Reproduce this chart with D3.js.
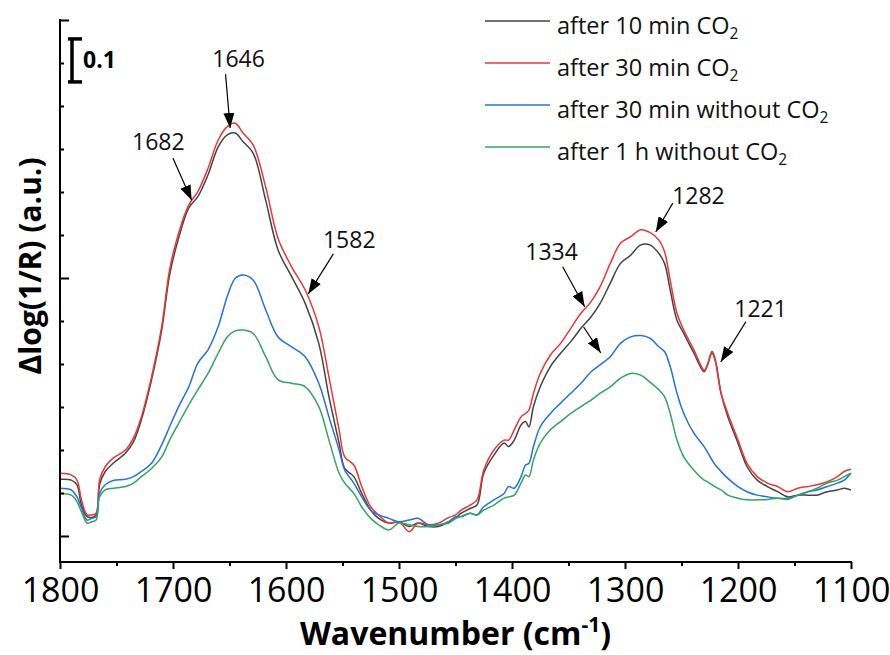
<!DOCTYPE html>
<html>
<head>
<meta charset="utf-8">
<script src="https://cdnjs.cloudflare.com/ajax/libs/d3/7.8.5/d3.min.js"></script>
<style>
body {margin:0; background:#fff;}
svg {font-family:'Open Sans','Noto Sans',sans-serif;}
</style>
</head>
<body>
<svg id="chart" width="890" height="655"></svg>
<script>
// wavenumber grid (cm-1)
var wavenumbers = [1800,1790,1785,1781,1776,1772,1768,1765,1760,1753,
  1742,1735,1728,1719,1710,1703,1695,1686,1678,1669,
  1660,1652,1645,1638,1629,1618,1607,1595,1583,1571,
  1562,1553,1548,1540,1533,1525,1518,1509,1500,1491,
  1483,1474,1465,1456,1450,1445,1437,1431,1425,1416,
  1407,1403,1398,1392,1388,1385,1381,1375,1366,1357,
  1348,1339,1330,1322,1313,1304,1295,1286,1278,1270,
  1265,1260,1254,1248,1239,1230,1227,1223,1220,1215,
  1209,1200,1192,1183,1174,1165,1156,1147,1138,1130,
  1121,1112,1106,1100]

var after10minCO2 = [.132,.130,.119,.072,.045,.043,.049,.119,.150,.169,
  .193,.219,.270,.363,.479,.607,.693,.763,.789,.840,
  .905,.933,.937,.917,.890,.781,.665,.603,.541,.448,
  .324,.216,.157,.138,.099,.060,.041,.030,.033,.022,
  .030,.022,.022,.033,.041,.053,.064,.072,.146,.188,
  .216,.208,.223,.258,.266,.254,.301,.347,.394,.425,
  .452,.483,.510,.541,.588,.634,.653,.677,.677,.657,
  .634,.572,.502,.471,.425,.382,.398,.429,.409,.332,
  .277,.216,.161,.130,.115,.103,.091,.095,.095,.095,
  .103,.107,.111,.107]

var after30minCO2 = [.146,.142,.130,.084,.049,.049,.053,.130,.161,.181,
  .200,.228,.277,.370,.487,.619,.705,.770,.801,.855,
  .921,.952,.960,.937,.909,.812,.692,.626,.572,.487,
  .370,.247,.184,.165,.115,.068,.049,.030,.033,.010,
  .030,.026,.030,.043,.049,.060,.072,.084,.153,.200,
  .223,.223,.247,.277,.285,.293,.332,.378,.421,.448,
  .483,.518,.545,.580,.634,.681,.696,.712,.706,.688,
  .661,.595,.518,.479,.433,.386,.398,.425,.405,.332,
  .285,.223,.169,.138,.123,.115,.103,.111,.115,.119,
  .126,.138,.150,.155]

var after30minNoCO2 = [.111,.107,.091,.065,.037,.041,.045,.099,.119,.129,
  .132,.138,.150,.169,.212,.254,.301,.347,.402,.433,
  .487,.557,.599,.607,.595,.526,.463,.440,.417,.355,
  .277,.200,.153,.123,.091,.060,.049,.041,.033,.037,
  .041,.026,.026,.033,.045,.045,.053,.049,.068,.084,
  .099,.115,.111,.138,.165,.169,.208,.254,.285,.309,
  .332,.355,.382,.398,.417,.448,.463,.466,.460,.440,
  .429,.394,.332,.285,.239,.208,.195,.177,.165,.150,
  .134,.115,.103,.095,.091,.088,.088,.095,.103,.107,
  .115,.123,.130,.146]

var after1hNoCO2 = [.099,.095,.080,.056,.030,.033,.037,.091,.107,.111,
  .115,.123,.138,.157,.184,.223,.262,.305,.340,.378,
  .425,.463,.477,.479,.471,.417,.363,.355,.347,.301,
  .223,.146,.123,.099,.068,.041,.026,.014,.030,.026,
  .022,.022,.026,.030,.041,.045,.053,.049,.060,.072,
  .088,.091,.095,.123,.142,.138,.177,.216,.247,.266,
  .285,.301,.316,.332,.347,.367,.378,.374,.358,.340,
  .324,.285,.223,.184,.153,.130,.126,.119,.114,.107,
  .095,.088,.084,.084,.085,.088,.085,.095,.103,.111,
  .123,.130,.138,.146]

var seriesNames = ['after 10 min CO','after 30 min CO','after 30 min without CO','after 1 h without CO']
var xTicks = [1800,1700,1600,1500,1400,1300,1200,1100]
var xMinorTicks = [1750,1650,1550,1450,1350,1250,1150]
var yTicks = [0,0.6,1.2]
var yMinorTicks = [0.1,0.2,0.3,0.4,0.5,0.7,0.8,0.9,1.0,1.1]
var scaleBarValue = 0.1

// peak labels: text position and arrow start/end, in wavenumber / absorbance
var peaks = [
  {label:'1646', tx:1642, ty:1.091, x1:1653.5, y1:1.074, x2:1649.4, y2:0.949},
  {label:'1682', tx:1713, ty:0.898, x1:1700.1, y1:0.879, x2:1683.5, y2:0.781},
  {label:'1582', tx:1544, ty:0.670, x1:1558.1, y1:0.656, x2:1580.3, y2:0.563},
  {label:'1334', tx:1365, ty:0.642, x1:1355.2, y1:0.626, x2:1335.7, y2:0.533},
  {label:'',     tx:0,    ty:0,     x1:1336.6, y1:0.486, x2:1321.5, y2:0.426},
  {label:'1282', tx:1235, ty:0.772, x1:1257.7, y1:0.774, x2:1272.8, y2:0.707},
  {label:'1221', tx:1180, ty:0.509, x1:1193.1, y1:0.498, x2:1215.2, y2:0.405}
]

var series = [after10minCO2, after30minCO2, after30minNoCO2, after1hNoCO2]
var colors = ['#444444','#ee3535','#2272e0','#34a462']

var svg = d3.select('#chart')
var x = d3.scaleLinear().domain([1800,1100]).range([60,851])
var y = d3.scaleLinear().domain([-0.0605,1.2]).range([562,20])

svg.append('defs').append('marker')
    .attr('id','arrow')
    .attr('markerUnits','userSpaceOnUse')
    .attr('markerWidth',15).attr('markerHeight',11)
    .attr('refX',15).attr('refY',5.5)
    .attr('orient','auto')
  .append('path')
    .attr('d','M0,0 L15,5.5 L0,11 Z')
    .attr('fill','#000')

//curves
var line = d3.line()
    .x(function(d,i) {return x(wavenumbers[i]);})
    .y(function(d) {return y(d);})
    .curve(d3.curveCatmullRom.alpha(0.5))

svg.selectAll('.curve')
  .data(series)
  .enter()
  .append('path')
    .attr('class','curve')
    .attr('d',line)
    .attr('fill','none')
    .attr('stroke',function(d,i) {return colors[i];})
    .attr('stroke-width',1.5)
    .attr('stroke-linejoin','round')

//x axis
var xAxis = svg.append('g')
    .attr('transform','translate(0,562)')
    .call(d3.axisBottom(x).tickValues(xTicks).tickSize(7).tickPadding(9).tickFormat(d3.format('d')))
xAxis.select('.domain').remove()
xAxis.selectAll('text').attr('font-size',34).attr('fill','#000').attr('font-family',"'Open Sans',sans-serif")
xAxis.selectAll('line').attr('stroke','#000').attr('stroke-width',2)
var xMinor = svg.append('g')
    .attr('transform','translate(0,562)')
    .call(d3.axisBottom(x).tickValues(xMinorTicks).tickSize(4).tickFormat(''))
xMinor.select('.domain').remove()
xMinor.selectAll('line').attr('stroke','#000').attr('stroke-width',2)
svg.append('line')
    .attr('x1',x(1800)-1).attr('x2',x(1100)+1)
    .attr('y1',562).attr('y2',562)
    .attr('stroke','#000').attr('stroke-width',2)

//y axis, ticks inward, no labels
var yAxis = svg.append('g')
    .attr('transform','translate(60,0)')
    .call(d3.axisRight(y).tickValues(yTicks).tickSize(9).tickFormat(''))
yAxis.select('.domain').remove()
yAxis.selectAll('line').attr('stroke','#000').attr('stroke-width',2)
var yMinor = svg.append('g')
    .attr('transform','translate(60,0)')
    .call(d3.axisRight(y).tickValues(yMinorTicks).tickSize(4).tickFormat(''))
yMinor.select('.domain').remove()
yMinor.selectAll('line').attr('stroke','#000').attr('stroke-width',2)
svg.append('line')
    .attr('x1',60).attr('x2',60)
    .attr('y1',y(1.2)-1).attr('y2',563)
    .attr('stroke','#000').attr('stroke-width',2)

//axis titles
var xt = svg.append('text')
    .attr('x',(x(1800)+x(1100))/2)
    .attr('y',645)
    .attr('text-anchor','middle')
    .attr('font-size',32).attr('font-weight','bold')
xt.append('tspan').text('Wavenumber (cm')
xt.append('tspan').attr('font-size',21).attr('dy',-13).text('-1')
xt.append('tspan').attr('dy',13).text(')')

svg.append('text')
    .attr('transform','translate(41,266) rotate(-90)')
    .attr('text-anchor','middle')
    .attr('font-size',30).attr('font-weight','bold')
    .text('\u0394log(1/R) (a.u.)')

//scale bar
var sbTop = 1.156
var sb = svg.append('g').attr('stroke','#000').attr('stroke-width',3.5)
sb.append('line').attr('x1',72).attr('x2',72).attr('y1',y(sbTop)).attr('y2',y(sbTop-scaleBarValue))
sb.append('line').attr('x1',68).attr('x2',82).attr('y1',y(sbTop)).attr('y2',y(sbTop))
sb.append('line').attr('x1',68).attr('x2',82).attr('y1',y(sbTop-scaleBarValue)).attr('y2',y(sbTop-scaleBarValue))
svg.append('text')
    .attr('x',83).attr('y',68)
    .attr('font-size',23).attr('font-weight','bold')
    .text(scaleBarValue)

//peak arrows and labels
svg.selectAll('.arrow')
  .data(peaks)
  .enter()
  .append('line')
    .attr('x1',function(d) {return x(d.x1);})
    .attr('y1',function(d) {return y(d.y1);})
    .attr('x2',function(d) {return x(d.x2);})
    .attr('y2',function(d) {return y(d.y2);})
    .attr('stroke','#000').attr('stroke-width',1.2)
    .attr('marker-end','url(#arrow)')

svg.selectAll('.peaklabel')
  .data(peaks.filter(function(d) {return d.label;}))
  .enter()
  .append('text')
    .attr('x',function(d) {return x(d.tx);})
    .attr('y',function(d) {return y(d.ty);})
    .attr('text-anchor','middle')
    .attr('font-size',23)
    .attr('fill','#111')
    .text(function(d) {return d.label;})

//legend
var legend = svg.append('g')
seriesNames.forEach(function(name,i) {
  var ly = 21 + i*42
  legend.append('line')
    .attr('x1',485).attr('x2',550).attr('y1',ly).attr('y2',ly)
    .attr('stroke',colors[i]).attr('stroke-width',1.5)
  var t = legend.append('text')
    .attr('x',557).attr('y',ly+12.5)
    .attr('font-size',23.5).attr('fill','#111')
  t.append('tspan').text(name)
  t.append('tspan').attr('font-size',15.5).attr('dy',5).text('2')
})
</script>
</body>
</html>
